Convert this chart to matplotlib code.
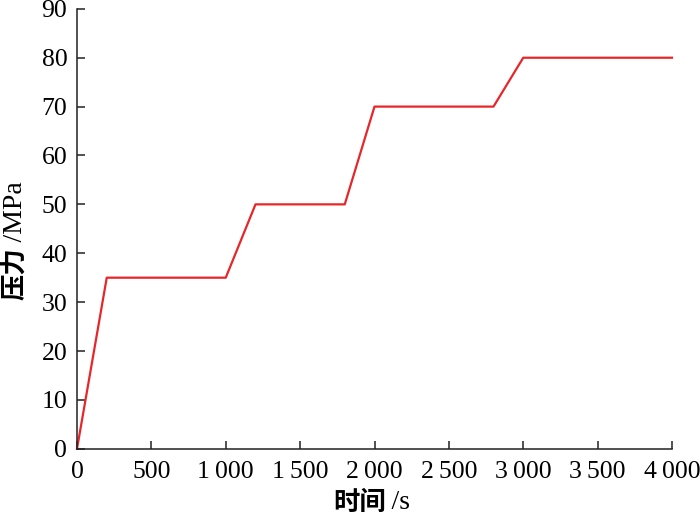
import matplotlib
matplotlib.use('Agg')
import matplotlib.pyplot as plt

plt.rcParams['font.family'] = ['Liberation Serif', 'Noto Sans CJK SC']

time_s = [0, 200, 1000, 1200, 1800, 2000, 2800, 3000, 4000]
pressure = [0, 35, 35, 50, 50, 70, 70, 80, 80]
xticks = [0, 500, 1000, 1500, 2000, 2500, 3000, 3500, 4000]
xtick_labels = ['0', '500', '1\u2009000', '1\u2009500', '2\u2009000',
                '2\u2009500', '3\u2009000', '3\u2009500', '4\u2009000']
yticks = [0, 10, 20, 30, 40, 50, 60, 70, 80, 90]


def main():
    fig = plt.figure(figsize=(7, 5.2), dpi=100)
    ax = fig.add_axes([0.11, 0.137, 0.85, 0.846])
    ax.plot(time_s, pressure, color='#e8262a', lw=1.6, clip_on=False)

    ax.set_xlim(0, 4000)
    ax.set_ylim(0, 90)
    ax.set_xticks(xticks)
    ax.set_xticklabels(xtick_labels)
    ax.set_yticks(yticks)
    ax.spines['top'].set_visible(False)
    ax.spines['right'].set_visible(False)
    for s in ('left', 'bottom'):
        ax.spines[s].set_linewidth(1.1)
        ax.spines[s].set_color('#222222')
    ax.tick_params(direction='in', length=6, width=1.1, color='#222222',
                   labelsize=18.5)
    ax.tick_params(axis='x', pad=9)
    ax.tick_params(axis='y', pad=7)

    # axis titles: Chinese part bold, unit part regular
    ax.text(0.52, -0.123, '时间', transform=ax.transAxes, ha='right',
            va='center', fontsize=19, fontweight='bold')
    ax.text(0.52, -0.123, '\u2009/s', transform=ax.transAxes, ha='left',
            va='center', fontsize=20)
    ax.text(-0.104, 0.459, '压力', transform=ax.transAxes, ha='center',
            va='top', rotation=90, fontsize=19, fontweight='bold')
    ax.text(-0.104, 0.459, '\u2009/MPa', transform=ax.transAxes, ha='center',
            va='bottom', rotation=90, fontsize=20)

    fig.savefig('out.png', dpi=100)


if __name__ == "__main__":
    main()
